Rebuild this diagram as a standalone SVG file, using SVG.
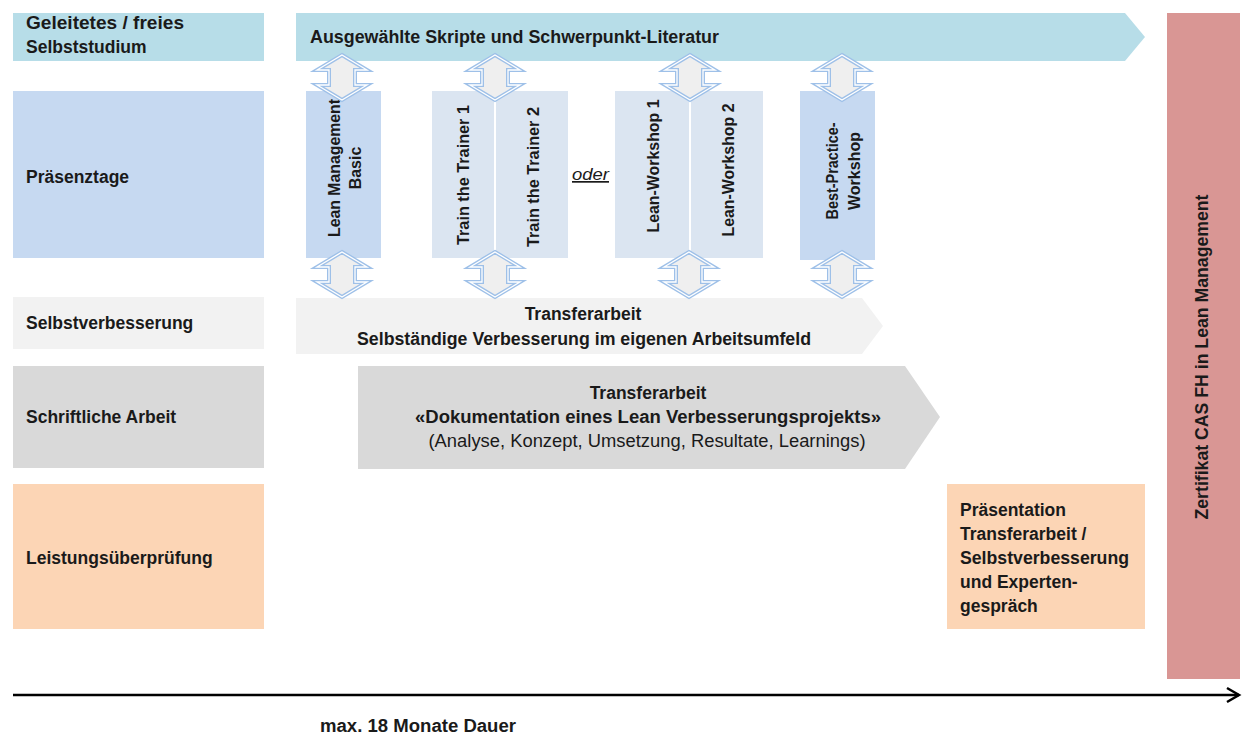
<svg xmlns="http://www.w3.org/2000/svg" xmlns:xlink="http://www.w3.org/1999/xlink" width="1246" height="734" viewBox="0 0 1246 734">
<style>
text{font-family:"Liberation Sans",Arial,sans-serif;fill:#1a1a1a}
.lbl{font-size:17.5px;font-weight:bold}
.b{font-size:17.5px;font-weight:bold}
.n{font-size:17.5px}
.v{font-size:16px;font-weight:bold}
.mid{text-anchor:middle}
.dblo{fill:#efefef;stroke:#9ec0e8;stroke-width:4;stroke-linejoin:miter}
.dbli{fill:none;stroke:#ffffff;stroke-width:1.3;stroke-linejoin:miter}
</style>
<defs>
<path id="dbl" d="M0,0 L25,15 L13,15 L13,30 L25,30 L0,45 L-25,30 L-13,30 L-13,15 L-25,15 Z"/>
</defs>
<rect width="1246" height="734" fill="#ffffff"/>

<g id="row-selbststudium">
<rect x="13" y="13" width="251" height="48" fill="#b7dde8"/>
<text class="lbl" x="26" y="29" textLength="158" lengthAdjust="spacingAndGlyphs">Geleitetes / freies</text>
<text class="lbl" x="26" y="53">Selbststudium</text>
</g>
<g id="row-praesenztage">
<rect x="13" y="91" width="251" height="167" fill="#c6d9f1"/>
<text class="lbl" x="26" y="183">Präsenztage</text>
</g>
<g id="row-selbstverbesserung">
<rect x="13" y="297" width="251" height="52" fill="#f2f2f2"/>
<text class="lbl" x="26" y="329">Selbstverbesserung</text>
</g>
<g id="row-schriftlich">
<rect x="13" y="366" width="251" height="102" fill="#d9d9d9"/>
<text class="lbl" x="26" y="423">Schriftliche Arbeit</text>
</g>
<g id="row-leistung">
<rect x="13" y="484" width="251" height="145" fill="#fcd5b5"/>
<text class="lbl" x="26" y="564">Leistungsüberprüfung</text>
</g>

<g id="literatur">
<polygon points="296,13 1125,13 1145,37 1125,61 296,61" fill="#b7dde8"/>
<text class="b" x="310" y="43" textLength="409" lengthAdjust="spacingAndGlyphs">Ausgewählte Skripte und Schwerpunkt-Literatur</text>
</g>

<g id="lean-basic">
<rect x="306" y="91" width="75" height="167" fill="#c6d9f1"/>
<text class="v mid" transform="translate(340,168) rotate(-90)" textLength="138" lengthAdjust="spacingAndGlyphs">Lean Management</text>
<text class="v mid" transform="translate(361,168) rotate(-90)">Basic</text>
</g>
<g id="train-trainer">
<rect x="432" y="91" width="136" height="167" fill="#dbe5f1"/>
<line x1="495" y1="91" x2="495" y2="258" stroke="#ffffff" stroke-width="2"/>
<text class="v mid" transform="translate(469,175) rotate(-90)" textLength="140" lengthAdjust="spacingAndGlyphs">Train the Trainer 1</text>
<text class="v mid" transform="translate(539,177) rotate(-90)" textLength="140" lengthAdjust="spacingAndGlyphs">Train the Trainer 2</text>
</g>
<g id="oder">
<text x="572" y="180" style="font-size:17px;font-style:italic" text-decoration="underline" textLength="37" lengthAdjust="spacingAndGlyphs">oder</text>
</g>
<g id="lean-workshop">
<rect x="615" y="91" width="148" height="167" fill="#dbe5f1"/>
<line x1="690" y1="91" x2="690" y2="258" stroke="#ffffff" stroke-width="2"/>
<text class="v mid" transform="translate(659,166) rotate(-90)" textLength="133" lengthAdjust="spacingAndGlyphs">Lean-Workshop 1</text>
<text class="v mid" transform="translate(734,170) rotate(-90)" textLength="133" lengthAdjust="spacingAndGlyphs">Lean-Workshop 2</text>
</g>
<g id="best-practice">
<rect x="800" y="91" width="75" height="169" fill="#c6d9f1"/>
<text class="v mid" transform="translate(838,171) rotate(-90)" textLength="97" lengthAdjust="spacingAndGlyphs">Best-Practice-</text>
<text class="v mid" transform="translate(860,171) rotate(-90)">Workshop</text>
</g>

<g id="transfer-selbst">
<polygon points="296,298 862,298 883,326 862,354 296,354" fill="#f2f2f2"/>
<text class="b mid" x="583" y="320">Transferarbeit</text>
<text class="b mid" x="584" y="345" textLength="454" lengthAdjust="spacingAndGlyphs">Selbständige Verbesserung im eigenen Arbeitsumfeld</text>
</g>

<g id="transfer-doku">
<polygon points="358,366 905,366 940,417 905,469 358,469" fill="#d9d9d9"/>
<text class="b mid" x="648" y="399">Transferarbeit</text>
<text class="b mid" x="648" y="423" textLength="466" lengthAdjust="spacingAndGlyphs">«Dokumentation eines Lean Verbesserungsprojekts»</text>
<text class="n mid" x="647" y="447" textLength="437" lengthAdjust="spacingAndGlyphs">(Analyse, Konzept, Umsetzung, Resultate, Learnings)</text>
</g>

<g id="praesentation">
<rect x="947" y="484" width="198" height="145" fill="#fcd5b5"/>
<text class="b" x="960" y="516">Präsentation</text>
<text class="b" x="960" y="540">Transferarbeit /</text>
<text class="b" x="960" y="564" textLength="169" lengthAdjust="spacingAndGlyphs">Selbstverbesserung</text>
<text class="b" x="960" y="588">und Experten-</text>
<text class="b" x="960" y="612">gespräch</text>
</g>

<g id="zertifikat">
<rect x="1167" y="13" width="73" height="666" fill="#d99694"/>
<text class="b mid" transform="translate(1208,357) rotate(-90)" textLength="325" lengthAdjust="spacingAndGlyphs">Zertifikat CAS FH in Lean Management</text>
</g>

<g id="connectors">
<use href="#dbl" x="342" y="55" class="dblo"/><use href="#dbl" x="342" y="55" class="dbli"/>
<use href="#dbl" x="495" y="55" class="dblo"/><use href="#dbl" x="495" y="55" class="dbli"/>
<use href="#dbl" x="690" y="55" class="dblo"/><use href="#dbl" x="690" y="55" class="dbli"/>
<use href="#dbl" x="842" y="55" class="dblo"/><use href="#dbl" x="842" y="55" class="dbli"/>
<use href="#dbl" x="342" y="252" class="dblo"/><use href="#dbl" x="342" y="252" class="dbli"/>
<use href="#dbl" x="495" y="252" class="dblo"/><use href="#dbl" x="495" y="252" class="dbli"/>
<use href="#dbl" x="689" y="252" class="dblo"/><use href="#dbl" x="689" y="252" class="dbli"/>
<use href="#dbl" x="842" y="252" class="dblo"/><use href="#dbl" x="842" y="252" class="dbli"/>
<line x1="13" y1="695" x2="1239" y2="695" stroke="#000000" stroke-width="2.5"/>
<polyline points="1227,688 1239,695 1227,702" fill="none" stroke="#000000" stroke-width="2.5"/>
</g>

<g id="dauer">
<text class="b" x="320" y="732" textLength="196" lengthAdjust="spacingAndGlyphs">max. 18 Monate Dauer</text>
</g>
</svg>
